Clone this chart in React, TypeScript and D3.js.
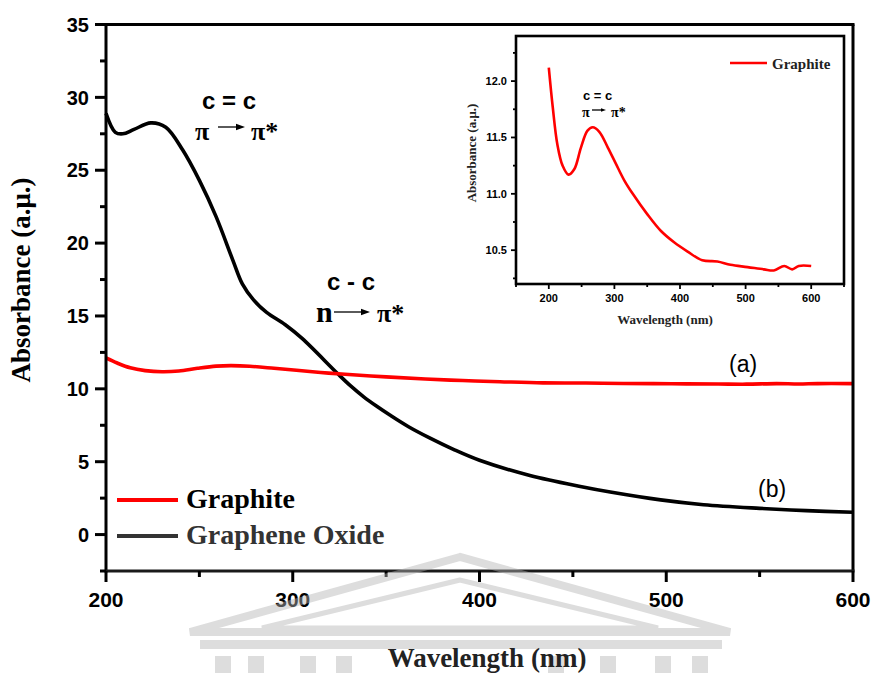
import React from "react";
import * as d3 from "d3";

// graphite (red) – same scan shown in main plot and inset
const graphiteWl = [200, 206, 213, 221, 230, 239, 249, 259, 267, 277, 290, 302, 315, 328, 350, 371, 391, 411, 434, 457, 477, 503, 528, 543, 559, 571, 581, 600];
const graphiteAbs = [12.12, 11.77, 11.44, 11.25, 11.17, 11.22, 11.41, 11.56, 11.59, 11.55, 11.41, 11.27, 11.12, 11.0, 10.82, 10.67, 10.57, 10.49, 10.41, 10.4, 10.37, 10.35, 10.33, 10.32, 10.36, 10.33, 10.36, 10.36];

// graphene oxide (black)
const goWl = [200, 205, 209, 215, 224, 232, 241, 250, 259, 268, 273, 279, 286, 296, 305, 324, 331, 338, 345, 352, 362, 373, 386, 400, 427, 454, 470, 497, 520, 550, 575, 600];
const goAbs = [28.9, 27.6, 27.5, 27.8, 28.25, 27.95, 26.4, 24.3, 21.8, 18.8, 17.2, 16.1, 15.25, 14.4, 13.46, 11.05, 10.2, 9.45, 8.8, 8.2, 7.4, 6.65, 5.85, 5.1, 4.05, 3.3, 2.92, 2.38, 2.05, 1.8, 1.64, 1.53];

const xMajor = [200, 300, 400, 500, 600];
const xMinor = [250, 350, 450, 550];
const yMajor = [0, 5, 10, 15, 20, 25, 30, 35];
const yMinor = [-2.5, 2.5, 7.5, 12.5, 17.5, 22.5, 27.5, 32.5];

const insetXMajor = [200, 300, 400, 500, 600];
const insetXMinor = [150, 250, 350, 450, 550, 650];
const insetYMajor = [10.5, 11.0, 11.5, 12.0];
const insetYMinor = [10.25, 10.75, 11.25, 11.75, 12.25];

const SANS = "'Liberation Sans', Arial, sans-serif";
const SERIF = "'Liberation Serif', 'Times New Roman', serif";
const RED = "#ff0000";

function Arrow({ x1, x2, y, head = 9, w = 3.2 }: { x1: number; x2: number; y: number; head?: number; w?: number }) {
  return (
    <g>
      <line x1={x1} x2={x2 - head + 1} y1={y} y2={y} stroke="#000" strokeWidth={1.3} />
      <polygon points={`${x2},${y} ${x2 - head},${y - w} ${x2 - head},${y + w}`} fill="#000" />
    </g>
  );
}

export default function App() {
  const W = 876, H = 673;

  const x = d3.scaleLinear().domain([200, 600]).range([106, 853]);
  const y = d3.scaleLinear().domain([-2.5, 35]).range([571, 24.5]);

  const xi = d3.scaleLinear().domain([150, 650]).range([516, 844]);
  const yi = d3.scaleLinear().domain([10.2, 12.4]).range([284, 36]);

  const graphite = graphiteWl.map((w, i) => [w, graphiteAbs[i]] as [number, number]);
  const go = goWl.map((w, i) => [w, goAbs[i]] as [number, number]);

  const line = d3
    .line<[number, number]>()
    .x(d => x(d[0]))
    .y(d => y(d[1]))
    .curve(d3.curveCatmullRom.alpha(0.5));

  const insetLine = d3
    .line<[number, number]>()
    .x(d => xi(d[0]))
    .y(d => yi(d[1]))
    .curve(d3.curveCatmullRom.alpha(0.5));

  const [x0, x1] = x.range();
  const [yb, yt] = y.range();
  const [ix0, ix1] = xi.range();
  const [iyb, iyt] = yi.range();

  const wm = "#b4b4b4";

  return (
    <svg width={W} height={H} style={{ position: "absolute", left: 0, top: 0, background: "#fff" }}>
      {/* data lines */}
      <path d={line(go) || ""} fill="none" stroke="#000" strokeWidth={3.6} strokeLinejoin="round" />
      <path d={line(graphite) || ""} fill="none" stroke={RED} strokeWidth={3.6} strokeLinejoin="round" />

      {/* frame */}
      <g stroke="#000" strokeWidth={3} fill="none">
        <line x1={x0} x2={x1 + 1.5} y1={yt} y2={yt} />
        <line x1={x1} x2={x1} y1={yt} y2={yb} />
        <line x1={x0} x2={x0} y1={yt - 1.5} y2={yb + 1.5} />
        <line x1={x0} x2={x1 + 1.5} y1={yb} y2={yb} stroke="#1a1a1a" />
      </g>

      {/* ticks */}
      <g stroke="#000" strokeWidth={3}>
        {yMajor.map(v => (
          <line key={"ym" + v} x1={x0 - 11} x2={x0} y1={y(v)} y2={y(v)} />
        ))}
        {yMinor.map(v => (
          <line key={"yn" + v} x1={x0 - 6} x2={x0} y1={y(v)} y2={y(v)} />
        ))}
        {xMajor.map(v => (
          <line key={"xm" + v} x1={x(v)} x2={x(v)} y1={yb} y2={yb + 11} />
        ))}
        {xMinor.map(v => (
          <line key={"xn" + v} x1={x(v)} x2={x(v)} y1={yb} y2={yb + 6} />
        ))}
      </g>
      <g fontFamily={SANS} fontWeight="bold" fontSize={20} fill="#000">
        {yMajor.map(v => (
          <text key={"yl" + v} x={x0 - 17} y={y(v)} dy="0.36em" textAnchor="end">
            {v}
          </text>
        ))}
        {xMajor.map(v => (
          <text key={"xl" + v} x={x(v)} y={607} textAnchor="middle" fontSize={21}>
            {v}
          </text>
        ))}
      </g>

      {/* watermark */}
      <g opacity={0.45} fill="none" stroke={wm}>
        <polygon points="460,557 190,632 730,632" strokeWidth={8} strokeLinejoin="miter" />
        <polygon points="460,580 262,628 658,628" strokeWidth={5} />
        <rect x={200} y={640} width={522} height={9} fill={wm} stroke="none" />
        {[215, 248, 300, 336, 548, 600, 655, 692].map(cx => (
          <rect key={cx} x={cx} y={656} width={16} height={20} fill={wm} stroke="none" />
        ))}
      </g>

      {/* axis titles */}
      <text
        transform="translate(30,280) rotate(-90)"
        textAnchor="middle"
        fontFamily={SERIF}
        fontWeight="bold"
        fontSize={27}
        fill="#000"
      >
        Absorbance (a.μ.)
      </text>
      <text x={487} y={667} textAnchor="middle" fontFamily={SERIF} fontWeight="bold" fontSize={27} fill="#222">
        Wavelength (nm)
      </text>

      {/* legend */}
      <line x1={117} x2={178} y1={500} y2={500} stroke={RED} strokeWidth={4} />
      <text x={186} y={508} fontFamily={SERIF} fontWeight="bold" fontSize={28} fill="#000">
        Graphite
      </text>
      <line x1={117} x2={178} y1={536} y2={536} stroke="#333" strokeWidth={4} />
      <text x={186} y={544} fontFamily={SERIF} fontWeight="bold" fontSize={28} fill="#333">
        Graphene Oxide
      </text>

      {/* annotations */}
      <g fontFamily={SANS} fontWeight="bold" fill="#000">
        <text x={202} y={109} fontSize={24}>c = c</text>
        <text x={195} y={140} fontSize={26} fontFamily={SERIF}>π</text>
        <Arrow x1={218} x2={245} y={127} />
        <text x={251} y={140} fontSize={26} fontFamily={SERIF}>π*</text>

        <text x={327} y={290} fontSize={24}>c - c</text>
        <text x={316} y={322} fontSize={30} fontFamily={SERIF}>n</text>
        <Arrow x1={334} x2={370} y={312} />
        <text x={377} y={322} fontSize={26} fontFamily={SERIF}>π*</text>
      </g>
      <g fontFamily={SANS} fontSize={23} fill="#000">
        <text x={729} y={372}>(a)</text>
        <text x={758} y={497}>(b)</text>
      </g>

      {/* inset */}
      <rect x={ix0} y={iyt} width={ix1 - ix0} height={iyb - iyt} fill="#fff" stroke="#000" strokeWidth={2.6} />
      <path d={insetLine(graphite) || ""} fill="none" stroke={RED} strokeWidth={2.6} strokeLinejoin="round" />
      <g stroke="#000" strokeWidth={1.8}>
        {insetYMajor.map(v => (
          <line key={"iym" + v} x1={ix0 - 5} x2={ix0} y1={yi(v)} y2={yi(v)} />
        ))}
        {insetYMinor.map(v => (
          <line key={"iyn" + v} x1={ix0 - 3} x2={ix0} y1={yi(v)} y2={yi(v)} />
        ))}
        {insetXMajor.map(v => (
          <line key={"ixm" + v} x1={xi(v)} x2={xi(v)} y1={iyb} y2={iyb + 5} />
        ))}
        {insetXMinor.map(v => (
          <line key={"ixn" + v} x1={xi(v)} x2={xi(v)} y1={iyb} y2={iyb + 3} />
        ))}
      </g>
      <g fontFamily={SANS} fontWeight="bold" fontSize={11} fill="#000">
        {insetYMajor.map(v => (
          <text key={"iyl" + v} x={ix0 - 9} y={yi(v)} dy="0.36em" textAnchor="end">
            {v.toFixed(1)}
          </text>
        ))}
        {insetXMajor.map(v => (
          <text key={"ixl" + v} x={xi(v)} y={302} textAnchor="middle">
            {v}
          </text>
        ))}
      </g>
      <text
        transform="translate(476,153) rotate(-90)"
        textAnchor="middle"
        fontFamily={SERIF}
        fontWeight="bold"
        fontSize={13}
        fill="#222"
      >
        Absorbance (a.μ.)
      </text>
      <text x={665} y={324} textAnchor="middle" fontFamily={SERIF} fontWeight="bold" fontSize={13} fill="#222">
        Wavelength (nm)
      </text>
      <line x1={730} x2={767} y1={63} y2={63} stroke={RED} strokeWidth={2.6} />
      <text x={772} y={69} fontFamily={SERIF} fontWeight="bold" fontSize={15} fill="#222">
        Graphite
      </text>
      <g fontFamily={SANS} fontWeight="bold" fill="#000">
        <text x={583} y={100} fontSize={13}>c = c</text>
        <text x={582} y={117} fontSize={14} fontFamily={SERIF}>π</text>
        <Arrow x1={592} x2={606} y={110} head={5} w={1.8} />
        <text x={611} y={117} fontSize={14} fontFamily={SERIF}>π*</text>
      </g>
    </svg>
  );
}
